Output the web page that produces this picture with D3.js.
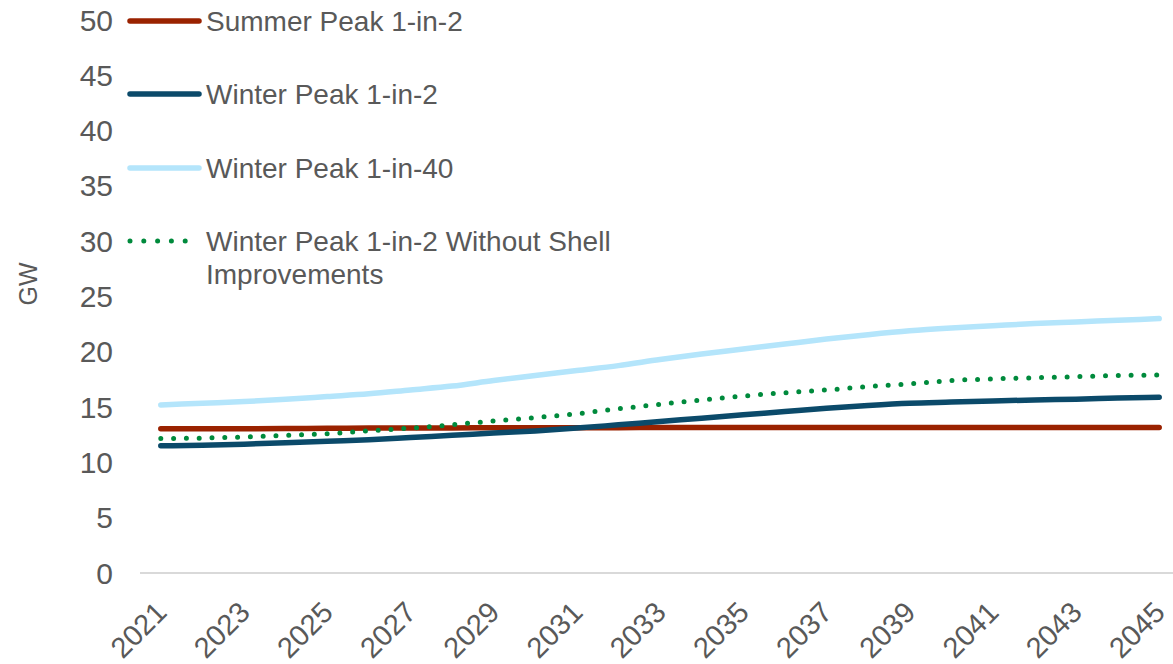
<!DOCTYPE html>
<html>
<head>
<meta charset="utf-8">
<script src="https://cdn.jsdelivr.net/npm/d3@7"></script>
<style>
  html, body { margin: 0; padding: 0; background: #fff; }
  svg { display: block; font-family: "Liberation Sans", Arial, sans-serif; }
</style>
</head>
<body>
<svg id="chart" width="1173" height="664"></svg>
<script>
const years = d3.range(2021, 2046);
const tickYears = [2021, 2023, 2025, 2027, 2029, 2031, 2033, 2035, 2037, 2039, 2041, 2043, 2045];
const yTicks = [0, 5, 10, 15, 20, 25, 30, 35, 40, 45, 50];

const summerPeak1in2 = [13.05, 13.05, 13.05, 13.07, 13.08, 13.1, 13.12, 13.12, 13.13, 13.13, 13.14, 13.14, 13.15, 13.15, 13.15, 13.15, 13.15, 13.15, 13.15, 13.15, 13.15, 13.15, 13.15, 13.15, 13.15];
const winterPeak1in2 = [11.5, 11.55, 11.65, 11.78, 11.92, 12.05, 12.25, 12.45, 12.65, 12.85, 13.1, 13.4, 13.7, 14.0, 14.3, 14.6, 14.9, 15.15, 15.35, 15.45, 15.55, 15.65, 15.72, 15.82, 15.9];
const winterPeak1in40 = [15.2, 15.35, 15.5, 15.7, 15.95, 16.2, 16.55, 16.9, 17.4, 17.85, 18.3, 18.75, 19.3, 19.8, 20.25, 20.7, 21.15, 21.55, 21.9, 22.15, 22.35, 22.55, 22.7, 22.85, 23.0];
const winterNoShell = [12.15, 12.2, 12.3, 12.45, 12.6, 12.85, 13.1, 13.4, 13.75, 14.05, 14.4, 14.85, 15.25, 15.65, 16.0, 16.3, 16.55, 16.85, 17.1, 17.4, 17.55, 17.65, 17.75, 17.85, 17.9];

const seriesNames = ["Summer Peak 1-in-2", "Winter Peak 1-in-2", "Winter Peak 1-in-40", "Winter Peak 1-in-2 Without Shell Improvements"];
const seriesValues = [summerPeak1in2, winterPeak1in2, winterPeak1in40, winterNoShell];
const seriesColors = ["#9A2200", "#0B4A6A", "#B4E5FB", "#008A3C"];
const seriesDotted = [false, false, false, true];

const svg = d3.select("#chart");
const textColor = "#595959";

const x = d3.scalePoint().domain(years).range([140, 1180]).padding(0.5);
const y = d3.scaleLinear().domain([0, 50]).range([573, 20]);

// axis line
svg.append("line")
  .attr("x1", 140).attr("x2", 1180)
  .attr("y1", y(0)).attr("y2", y(0))
  .attr("stroke", "#D9D9D9").attr("stroke-width", 2);

// y tick labels
svg.append("g").selectAll("text").data(yTicks).join("text")
  .attr("x", 113).attr("y", d => y(d))
  .attr("text-anchor", "end").attr("dominant-baseline", "central")
  .attr("fill", textColor).attr("font-size", 30)
  .text(d => d);

// y axis title
svg.append("text")
  .attr("transform", `translate(37,${284}) rotate(-90)`)
  .attr("text-anchor", "middle")
  .attr("fill", textColor).attr("font-size", 25)
  .text("GW");

// x tick labels
svg.append("g").selectAll("text").data(tickYears).join("text")
  .attr("transform", d => `translate(${x(d) + 0.5},${607}) rotate(-45)`)
  .attr("text-anchor", "end").attr("dominant-baseline", "central")
  .attr("fill", textColor).attr("font-size", 29)
  .text(d => d);

// lines
const line = d3.line().x((d, i) => x(years[i])).y(d => y(d)).curve(d3.curveMonotoneX);
seriesValues.forEach((vals, k) => {
  const p = svg.append("path")
    .attr("d", line(vals))
    .attr("fill", "none")
    .attr("stroke", seriesColors[k])
    .attr("stroke-width", seriesDotted[k] ? 5 : 5.5)
    .attr("stroke-linecap", "round")
    .attr("stroke-linejoin", "round");
  if (seriesDotted[k]) p.attr("stroke-dasharray", "0 12.8");
});

// legend
const legendY = [21, 94, 168, 241];
const lg = svg.append("g");
seriesNames.forEach((name, k) => {
  const ly = legendY[k];
  const l = lg.append("line")
    .attr("x1", 130).attr("x2", 199)
    .attr("y1", ly).attr("y2", ly)
    .attr("stroke", seriesColors[k])
    .attr("stroke-width", seriesDotted[k] ? 5 : 5.5)
    .attr("stroke-linecap", "round");
  if (seriesDotted[k]) l.attr("stroke-dasharray", "0 13.8");
  const t = lg.append("text")
    .attr("x", 206).attr("y", ly)
    .attr("dominant-baseline", "central")
    .attr("fill", textColor).attr("font-size", 28);
  if (k === 3) {
    t.append("tspan").attr("x", 206).attr("y", ly).text("Winter Peak 1-in-2 Without Shell");
    t.append("tspan").attr("x", 206).attr("y", ly + 33).text("Improvements");
  } else {
    t.text(name);
  }
});
</script>
</body>
</html>
